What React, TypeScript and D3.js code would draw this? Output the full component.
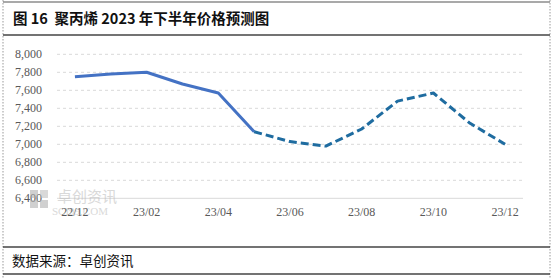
import React from "react";
import * as d3 from "d3";

const months = ["22/12","23/01","23/02","23/03","23/04","23/05","23/06","23/07","23/08","23/09","23/10","23/11","23/12"];
const actualValues = [7750, 7780, 7800, 7670, 7570, 7140];
const forecastValues = [7140, 7030, 6980, 7170, 7480, 7570, 7240, 7000];
const forecastStart = 5;
const yTicks = [6400, 6600, 6800, 7000, 7200, 7400, 7600, 7800, 8000];
const xLabels = ["22/12","23/02","23/04","23/06","23/08","23/10","23/12"];
const title = "图 16  聚丙烯 2023 年下半年价格预测图";
const source = "数据来源：卓创资讯";

export default function App() {
  const W = 554, H = 278;
  const left = 57, right = 523, top = 54.3, bottom = 198.3;
  const x = d3.scaleBand<string>().domain(months).range([left, right]);
  const y = d3.scaleLinear().domain([6400, 8000]).range([bottom, top]);
  const cx = (m: string) => (x(m) as number) + x.bandwidth() / 2;
  const line = d3.line<[string, number]>().x(d => cx(d[0])).y(d => y(d[1]));
  const actual: [string, number][] = actualValues.map((v, i) => [months[i], v]);
  const forecast: [string, number][] = forecastValues.map((v, i) => [months[i + forecastStart], v]);
  const fmt = d3.format(",");
  const serif = "'Liberation Serif', 'Noto Sans CJK SC', serif";
  return (
    <svg width={W} height={H} style={{ position: "absolute", left: 0, top: 0, background: "#fff" }}>
      <rect x={0} y={0} width={W} height={H} fill="#fff" />
      {/* frame */}
      <line x1={3} x2={3} y1={0} y2={H} stroke="#999" strokeDasharray="1.5,1.5" />
      <line x1={550} x2={550} y1={0} y2={H} stroke="#999" strokeDasharray="1.5,1.5" />
      <line x1={3} x2={550} y1={2} y2={2} stroke="#555" strokeWidth={1.2} />
      <line x1={3} x2={550} y1={35} y2={35} stroke="#444" strokeWidth={1.5} />
      <line x1={3} x2={550} y1={247} y2={247} stroke="#444" strokeWidth={1.5} />
      <line x1={3} x2={550} y1={274} y2={274} stroke="#444" strokeWidth={1.5} />
      <text x={13} y={24} fontFamily="'Noto Sans CJK SC', sans-serif" fontWeight="bold" fontSize={14.5} fill="#111" style={{ whiteSpace: "pre" }}>{title}</text>
      <text x={12} y={266} fontFamily="'Noto Sans CJK SC', sans-serif" fontSize={13.5} fill="#111">{source}</text>
      {/* grid */}
      {yTicks.map(t => (
        t === 6400 ? (
          <line key={t} x1={left} x2={right} y1={y(t)} y2={y(t)} stroke="#d9d9d9" strokeWidth={1} />
        ) : (
          <line key={t} x1={left} x2={right} y1={y(t)} y2={y(t)} stroke="#d9d9d9" strokeWidth={1} strokeDasharray="3,3" />
        )
      ))}
      {yTicks.map(t => (
        <text key={t} x={42} y={y(t) + 4} textAnchor="end" fontFamily={serif} fontSize={12} fill="#595959">{fmt(t)}</text>
      ))}
      {/* watermark */}
      <g opacity={0.55}>
        <rect x={30} y={190} width={8} height={8} fill="#aaa" />
        <rect x={40} y={190} width={8} height={8} fill="#bbb" />
        <rect x={30} y={200} width={8} height={8} fill="#aaa" />
        <rect x={40} y={200} width={8} height={8} fill="#aaa" />
        <text x={57} y={202} fontFamily="'Noto Sans CJK SC', sans-serif" fontSize={15} fill="#bbb">卓创资讯</text>
        <text x={52} y={215} fontFamily={serif} fontSize={11} fill="#bbb">SCI99.COM</text>
      </g>
      {xLabels.map(l => (
        <text key={l} x={cx(l)} y={216} textAnchor="middle" fontFamily={serif} fontSize={12} fill="#595959">{l}</text>
      ))}
      <path d={line(actual) || ""} fill="none" stroke="#4472C4" strokeWidth={3} strokeLinejoin="round" />
      <path d={line(forecast) || ""} fill="none" stroke="#1F6CA0" strokeWidth={3} strokeDasharray="8,4" strokeLinejoin="round" />
    </svg>
  );
}
